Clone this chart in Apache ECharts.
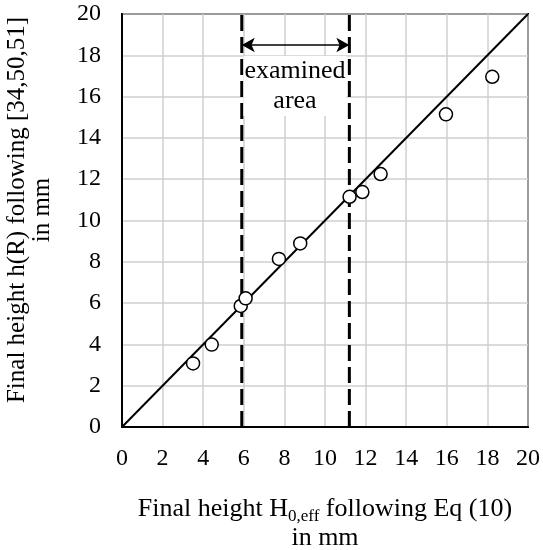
<!DOCTYPE html>
<html>
<head>
<meta charset="utf-8">
<script src="https://cdn.jsdelivr.net/npm/echarts@6/dist/echarts.min.js"></script>
<style>
  html, body { margin: 0; padding: 0; background: #fff; }
  #chart { width: 543px; height: 550px; }
</style>
</head>
<body>
<div id="chart"></div>
<script>
// measured points: H0,eff (x) vs h(R) (y), in mm
var xValues = [3.50, 4.42, 5.85, 6.09, 7.73, 8.78, 11.21, 11.84, 12.74, 15.96, 18.24];
var yValues = [3.08, 3.99, 5.86, 6.23, 8.14, 8.89, 11.15, 11.38, 12.25, 15.14, 16.96];
var identityLine = [0, 20];          // y = x reference line
var areaBounds = [5.9, 11.2];        // examined area limits
var arrowLevel = 18.5;               // height of the double arrow
var tickValues = [0, 2, 4, 6, 8, 10, 12, 14, 16, 18, 20];

var FONT = 'Liberation Serif';

var points = xValues.map(function (x, i) { return [x, yValues[i]]; });

var chart = echarts.init(document.getElementById('chart'));

function boundSeries(x) {
  return {
    type: 'line',
    data: [[x, tickValues[0]], [x, tickValues[tickValues.length - 1]]],
    symbol: 'none',
    lineStyle: { color: '#000', width: 3, type: [16, 6] },
    z: 3,
    silent: true
  };
}

chart.setOption({
  animation: false,
  backgroundColor: '#fff',
  grid: {
    left: 122, right: 15, top: 14, bottom: 123,
    show: true, borderColor: '#000', borderWidth: 2
  },
  xAxis: {
    type: 'value',
    min: tickValues[0], max: tickValues[tickValues.length - 1], interval: 2,
    axisLine: { show: true, lineStyle: { color: '#000', width: 2 } },
    axisTick: { show: false },
    axisLabel: { color: '#000', fontSize: 24, fontFamily: FONT, margin: 20 },
    splitLine: { show: true, lineStyle: { color: '#cfcfcf', width: 1.5 } }
  },
  yAxis: {
    type: 'value',
    min: tickValues[0], max: tickValues[tickValues.length - 1], interval: 2,
    axisLine: { show: true, lineStyle: { color: '#000', width: 2 } },
    axisTick: { show: false },
    axisLabel: { color: '#000', fontSize: 24, fontFamily: FONT, margin: 21 },
    splitLine: { show: true, lineStyle: { color: '#cfcfcf', width: 1.5 } }
  },
  series: [
    {
      type: 'line',
      data: [[identityLine[0], identityLine[0]], [identityLine[1], identityLine[1]]],
      symbol: 'none',
      lineStyle: { color: '#000', width: 2 },
      z: 2,
      silent: true
    },
    boundSeries(areaBounds[0]),
    boundSeries(areaBounds[1]),
    {
      type: 'line',
      data: [],
      silent: true,
      markLine: {
        silent: true,
        symbol: ['arrow', 'arrow'],
        symbolSize: [11, 13],
        label: { show: false },
        lineStyle: { color: '#000', width: 1.5, type: 'solid' },
        data: [[{ coord: [areaBounds[0], arrowLevel] }, { coord: [areaBounds[1], arrowLevel] }]]
      }
    },
    {
      type: 'scatter',
      data: points,
      symbol: 'circle',
      symbolSize: 13,
      itemStyle: { color: '#fff', borderColor: '#000', borderWidth: 1.5, opacity: 1 },
      z: 5
    }
  ],
  graphic: [
    {
      type: 'text', x: 295, y: 86,
      style: {
        text: 'examined\narea', fontFamily: FONT, fontSize: 26, fill: '#000',
        align: 'center', verticalAlign: 'middle', lineHeight: 30,
        backgroundColor: '#fff', padding: [0, 1]
      },
      z: 10
    },
    {
      type: 'text', x: 325, y: 524,
      style: {
        text: 'Final height H{sub|0,eff} following Eq (10)\nin mm',
        fontFamily: FONT, fontSize: 26, fill: '#000',
        align: 'center', verticalAlign: 'middle', lineHeight: 29,
        rich: {
          sub: { fontFamily: FONT, fontSize: 17, padding: [14, 0, 0, 0], lineHeight: 29 }
        }
      }
    },
    {
      type: 'text', x: 30, y: 210, rotation: Math.PI / 2,
      style: {
        text: 'Final height h(R) following [34,50,51]\nin mm',
        fontFamily: FONT, fontSize: 25, fill: '#000',
        align: 'center', verticalAlign: 'middle', lineHeight: 25
      }
    }
  ]
});
</script>
</body>
</html>
